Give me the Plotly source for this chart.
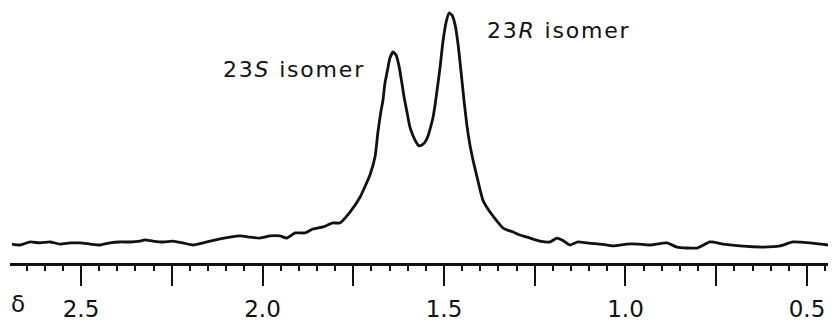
import plotly.graph_objects as go

# Chemical shift (ppm) and relative intensity (arbitrary units, 23R peak = 100)
delta_ppm = [
    2.690, 2.668, 2.640, 2.613, 2.585, 2.558, 2.530, 2.503, 2.475, 2.448,
    2.420, 2.393, 2.365, 2.337, 2.324, 2.302, 2.274, 2.247, 2.219, 2.191,
    2.153, 2.117, 2.090, 2.062, 2.034, 2.007, 1.979, 1.952, 1.933, 1.910,
    1.883, 1.861, 1.833, 1.806, 1.787, 1.759, 1.731, 1.704, 1.690, 1.682,
    1.674, 1.668, 1.663, 1.654, 1.649, 1.640, 1.632, 1.624, 1.616, 1.610,
    1.602, 1.594, 1.585, 1.577, 1.569, 1.561, 1.552, 1.544, 1.539, 1.530,
    1.525, 1.519, 1.511, 1.503, 1.494, 1.486, 1.478, 1.470, 1.461, 1.453,
    1.445, 1.437, 1.428, 1.420, 1.409, 1.393, 1.379, 1.365, 1.337, 1.310,
    1.291, 1.263, 1.236, 1.208, 1.189, 1.175, 1.153, 1.131, 1.106, 1.070,
    1.034, 0.996, 0.966, 0.933, 0.886, 0.858, 0.803, 0.767, 0.731, 0.685,
    0.621, 0.574, 0.539, 0.492, 0.442,
]
intensity = [
    0.4, 0.0, 1.3, 0.9, 1.3, 0.4, 0.9, 0.9, 0.4, 0.0,
    0.9, 1.3, 1.3, 1.7, 2.2, 1.7, 1.3, 1.7, 0.9, 0.0,
    1.3, 2.6, 3.4, 3.9, 3.4, 3.0, 3.9, 3.9, 3.0, 5.2,
    5.2, 6.9, 7.8, 9.5, 9.5, 14.2, 20.7, 30.2, 37.9, 48.7,
    57.3, 62.5, 69.4, 76.7, 80.6, 83.2, 81.9, 77.2, 69.8, 63.8,
    57.3, 50.9, 47.0, 44.4, 42.7, 43.1, 44.4, 47.0, 49.6, 55.2,
    59.9, 66.8, 76.3, 87.5, 96.1, 100.0, 99.1, 95.3, 86.2, 74.6,
    62.5, 51.7, 42.7, 36.6, 29.3, 19.4, 15.5, 12.5, 7.3, 5.6,
    4.3, 3.0, 1.7, 1.3, 3.0, 2.2, 0.0, 1.3, 0.9, 0.4,
    -0.4, 0.4, 0.4, 0.0, 0.9, -0.9, -1.3, 1.3, 0.4, -0.4,
    -0.9, -0.4, 1.3, 0.9, 0.0,
]

major_ticks = [2.5, 2.25, 2.0, 1.75, 1.5, 1.25, 1.0, 0.75, 0.5]
major_labels = ["2.5", "", "2.0", "", "1.5", "", "1.0", "", "0.5"]

FONT = "DejaVu Sans"

fig = go.Figure()
fig.add_trace(go.Scatter(
    x=delta_ppm, y=intensity, mode="lines",
    line=dict(color="#111111", width=2.8, shape="spline", smoothing=0.5),
    hoverinfo="skip", showlegend=False,
))

fig.update_layout(
    template="none",
    width=833, height=321,
    margin=dict(l=10, r=5, t=0, b=58, pad=0),
    paper_bgcolor="white", plot_bgcolor="white",
    font=dict(family=FONT, color="#111111", size=23),
    xaxis=dict(
        range=[2.6956, 0.4421],
        automargin=False,
        tickmode="array", tickvals=major_ticks, ticktext=major_labels,
        ticks="outside", ticklen=20, tickwidth=2, tickcolor="#111111",
        showline=True, linecolor="#111111", linewidth=2.5,
        showgrid=False, zeroline=False,
        ticklabelstandoff=4,
        tickfont=dict(family=FONT, size=23, color="#111111"),
        minor=dict(dtick=0.05, tick0=0, ticks="outside", ticklen=5,
                   tickwidth=2, tickcolor="#111111", showgrid=False),
    ),
    yaxis=dict(range=[-7.76, 105.6], visible=False, automargin=False,
               showgrid=False, zeroline=False),
    annotations=[
        dict(text="δ", xref="paper", yref="paper", x=0.0098, y=-0.156,
             xanchor="center", yanchor="middle", showarrow=False,
             font=dict(family=FONT, size=23, color="#111111")),
        dict(text='<span style="letter-spacing:1.8px">23<i>S</i> isomer</span>',
             xref="paper", yref="paper", x=0.3466, y=0.7357,
             xanchor="center", yanchor="middle", showarrow=False,
             font=dict(family=FONT, size=22, color="#111111")),
        dict(text='<span style="letter-spacing:1.8px">23<i>R</i> isomer</span>',
             xref="paper", yref="paper", x=0.6705, y=0.8829,
             xanchor="center", yanchor="middle", showarrow=False,
             font=dict(family=FONT, size=22, color="#111111")),
    ],
)

fig.write_html(
    "out.html",
    config={"displayModeBar": False},
    post_script="document.body.style.margin='0';document.body.style.padding='0';",
)
